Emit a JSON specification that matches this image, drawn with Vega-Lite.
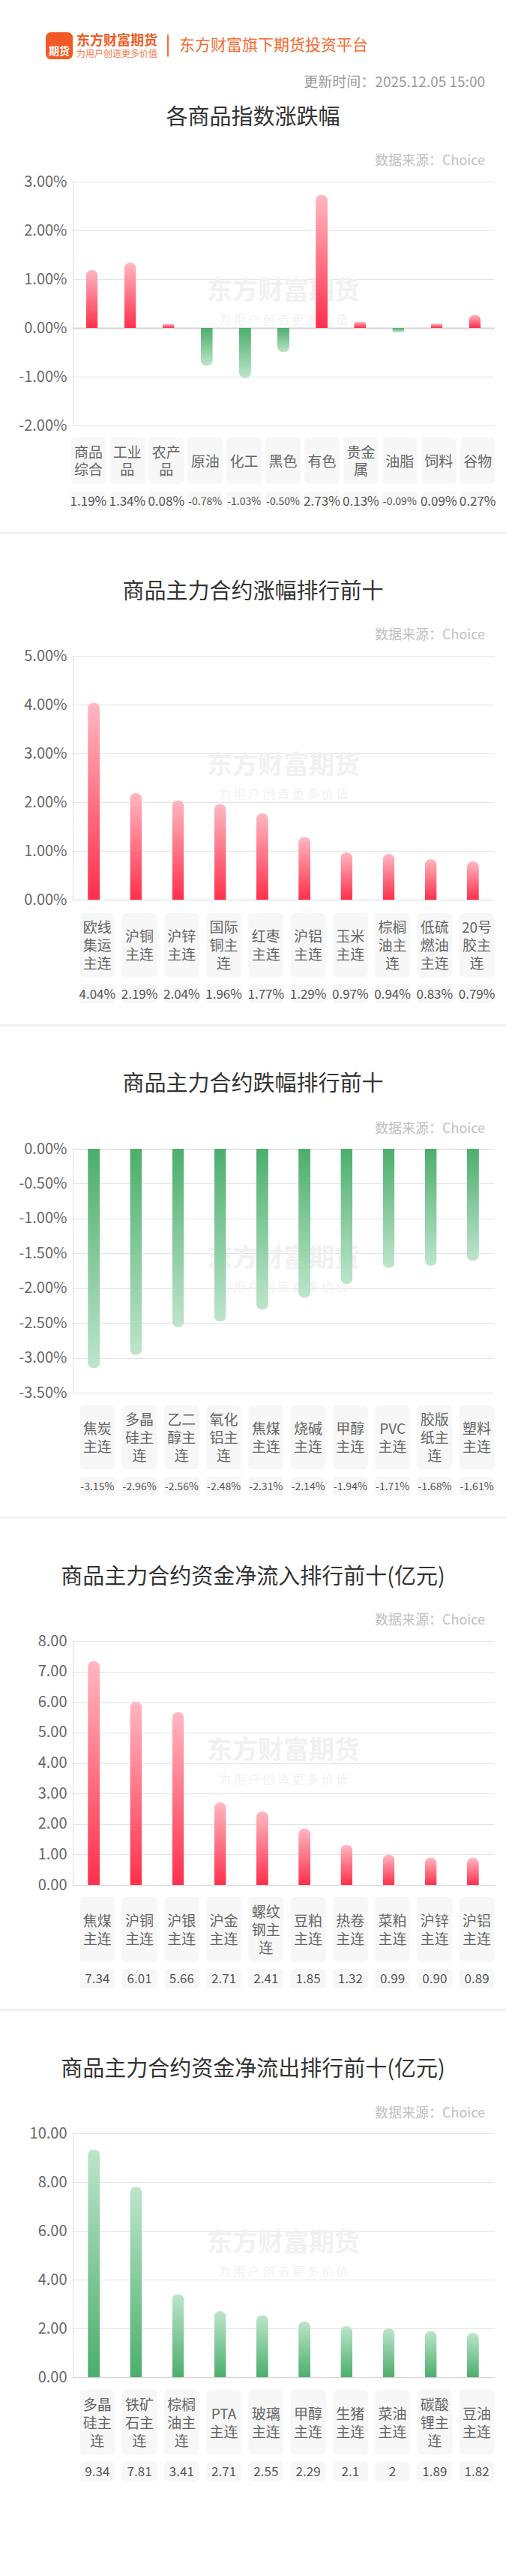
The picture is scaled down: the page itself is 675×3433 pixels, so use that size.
{
"$schema": "https://vega.github.io/schema/vega-lite/v6.json",
"padding": 0,
"background": "#ffffff",
"spacing": 0,
"config": {
  "view": {"stroke": null},
  "font": "Noto Sans CJK SC",
  "text": {"font": "Noto Sans CJK SC"},
  "axis": {"labelFont": "Noto Sans CJK SC"},
  "locale": {"number": {"decimal": ".", "thousands": ",", "grouping": [3], "currency": ["", ""], "minus": "-"}},
  "concat": {"spacing": 0}
},
"datasets": {
  "one": [{"k": 1}],
  "idx": [
    {"name": "商品综合", "lines": ["商品", "综合"], "v": 0.0119},
    {"name": "工业品", "lines": ["工业", "品"], "v": 0.0134},
    {"name": "农产品", "lines": ["农产", "品"], "v": 0.0008},
    {"name": "原油", "lines": ["原油"], "v": -0.0078},
    {"name": "化工", "lines": ["化工"], "v": -0.0103},
    {"name": "黑色", "lines": ["黑色"], "v": -0.005},
    {"name": "有色", "lines": ["有色"], "v": 0.0273},
    {"name": "贵金属", "lines": ["贵金", "属"], "v": 0.0013},
    {"name": "油脂", "lines": ["油脂"], "v": -0.0009},
    {"name": "饲料", "lines": ["饲料"], "v": 0.0009},
    {"name": "谷物", "lines": ["谷物"], "v": 0.0027}
  ],
  "up": [
    {"name": "欧线集运主连", "lines": ["欧线", "集运", "主连"], "v": 0.0404},
    {"name": "沪铜主连", "lines": ["沪铜", "主连"], "v": 0.0219},
    {"name": "沪锌主连", "lines": ["沪锌", "主连"], "v": 0.0204},
    {"name": "国际铜主连", "lines": ["国际", "铜主", "连"], "v": 0.0196},
    {"name": "红枣主连", "lines": ["红枣", "主连"], "v": 0.0177},
    {"name": "沪铝主连", "lines": ["沪铝", "主连"], "v": 0.0129},
    {"name": "玉米主连", "lines": ["玉米", "主连"], "v": 0.0097},
    {"name": "棕榈油主连", "lines": ["棕榈", "油主", "连"], "v": 0.0094},
    {"name": "低硫燃油主连", "lines": ["低硫", "燃油", "主连"], "v": 0.0083},
    {"name": "20号胶主连", "lines": ["20号", "胶主", "连"], "v": 0.0079}
  ],
  "down": [
    {"name": "焦炭主连", "lines": ["焦炭", "主连"], "v": -0.0315},
    {"name": "多晶硅主连", "lines": ["多晶", "硅主", "连"], "v": -0.0296},
    {"name": "乙二醇主连", "lines": ["乙二", "醇主", "连"], "v": -0.0256},
    {"name": "氧化铝主连", "lines": ["氧化", "铝主", "连"], "v": -0.0248},
    {"name": "焦煤主连", "lines": ["焦煤", "主连"], "v": -0.0231},
    {"name": "烧碱主连", "lines": ["烧碱", "主连"], "v": -0.0214},
    {"name": "甲醇主连", "lines": ["甲醇", "主连"], "v": -0.0194},
    {"name": "PVC主连", "lines": ["PVC", "主连"], "v": -0.0171},
    {"name": "胶版纸主连", "lines": ["胶版", "纸主", "连"], "v": -0.0168},
    {"name": "塑料主连", "lines": ["塑料", "主连"], "v": -0.0161}
  ],
  "inflow": [
    {"name": "焦煤主连", "lines": ["焦煤", "主连"], "v": 7.34},
    {"name": "沪铜主连", "lines": ["沪铜", "主连"], "v": 6.01},
    {"name": "沪银主连", "lines": ["沪银", "主连"], "v": 5.66},
    {"name": "沪金主连", "lines": ["沪金", "主连"], "v": 2.71},
    {"name": "螺纹钢主连", "lines": ["螺纹", "钢主", "连"], "v": 2.41},
    {"name": "豆粕主连", "lines": ["豆粕", "主连"], "v": 1.85},
    {"name": "热卷主连", "lines": ["热卷", "主连"], "v": 1.32},
    {"name": "菜粕主连", "lines": ["菜粕", "主连"], "v": 0.99},
    {"name": "沪锌主连", "lines": ["沪锌", "主连"], "v": 0.90},
    {"name": "沪铝主连", "lines": ["沪铝", "主连"], "v": 0.89}
  ],
  "outflow": [
    {"name": "多晶硅主连", "lines": ["多晶", "硅主", "连"], "v": 9.34},
    {"name": "铁矿石主连", "lines": ["铁矿", "石主", "连"], "v": 7.81},
    {"name": "棕榈油主连", "lines": ["棕榈", "油主", "连"], "v": 3.41},
    {"name": "PTA主连", "lines": ["PTA", "主连"], "v": 2.71},
    {"name": "玻璃主连", "lines": ["玻璃", "主连"], "v": 2.55},
    {"name": "甲醇主连", "lines": ["甲醇", "主连"], "v": 2.29},
    {"name": "生猪主连", "lines": ["生猪", "主连"], "v": 2.1},
    {"name": "菜油主连", "lines": ["菜油", "主连"], "v": 2},
    {"name": "碳酸锂主连", "lines": ["碳酸", "锂主", "连"], "v": 1.89},
    {"name": "豆油主连", "lines": ["豆油", "主连"], "v": 1.82}
  ]
},
"vconcat": [
  {"width": 675, "height": 43, "data": {"name": "one"}, "mark": {"type": "text", "text": "", "fontSize": 1}},
  {"hconcat": [
    {"width": 61, "height": 36, "data": {"name": "one"}, "mark": {"type": "text", "text": "", "fontSize": 1}},
    {"width": 36, "height": 36, "data": {"name": "one"}, "view": {"fill": "#f15a24", "cornerRadius": 7},
     "mark": {"type": "text", "text": "期货", "fontSize": 14, "fontWeight": "bold", "color": "#ffffff", "dy": 8}},
    {"width": 4, "height": 36, "data": {"name": "one"}, "mark": {"type": "text", "text": "", "fontSize": 1}},
    {"width": 110, "height": 36, "data": {"name": "one"}, "layer": [
      {"mark": {"type": "text", "text": "东方财富期货", "fontSize": 18, "fontWeight": "bold", "color": "#ef5b25", "dy": -6}},
      {"mark": {"type": "text", "text": "为用户创造更多价值", "fontSize": 12, "color": "#f07a4a", "dy": 11}}
    ]},
    {"width": 12, "height": 36, "data": {"name": "one"}, "mark": {"type": "text", "text": "", "fontSize": 1}},
    {"width": 2, "height": 29, "data": {"name": "one"}, "view": {"fill": "#f26a30"}, "mark": {"type": "text", "text": "", "fontSize": 1}},
    {"width": 9, "height": 36, "data": {"name": "one"}, "mark": {"type": "text", "text": "", "fontSize": 1}},
    {"width": 262, "height": 36, "data": {"name": "one"}, "mark": {"type": "text", "text": "东方财富旗下期货投资平台", "fontSize": 21, "color": "#f26a30"}}
  ], "spacing": 0, "center": true},
  {"width": 675, "height": 58, "data": {"name": "one"}, "mark": {"type": "text", "text": "更新时间：2025.12.05 15:00", "fontSize": 19, "color": "#9a9a9a", "align": "right", "dx": 309.5, "dy": 1.5}},

  {"width": 675, "height": 95, "data": {"name": "one"}, "layer": [
    {"mark": {"type": "text", "text": "各商品指数涨跌幅", "fontSize": 29, "color": "#333333", "dy": -27.5}},
    {"mark": {"type": "text", "text": "数据来源：Choice", "fontSize": 18, "color": "#c0c0c0", "align": "right", "dx": 309.5, "dy": 30}}
  ]},
  {"width": 675, "height": 325, "layer": [
    {"data": {"name": "one"}, "mark": {"type": "text", "text": "东方财富期货", "fontSize": 34, "fontWeight": "bold", "color": "#f1f1f1", "dx": 40.5, "dy": -16}},
    {"data": {"name": "one"}, "mark": {"type": "text", "text": "为 用 户 创 造 更 多 价 值", "fontSize": 16, "color": "#f1f1f1", "dx": 40.5, "dy": 22}},
    {"data": {"name": "idx"}, "transform": [{"filter": "datum.v >= 0"}],
     "mark": {"type": "bar", "width": 16, "cornerRadiusTopLeft": 8, "cornerRadiusTopRight": 8,
              "fill": {"gradient": "linear", "x1": 0, "y1": 0, "x2": 0, "y2": 1, "stops": [{"offset": 0, "color": "#ffb8c1"}, {"offset": 1, "color": "#ff2f4b"}]}},
     "encoding": {
       "x": {"field": "name", "type": "nominal", "sort": null, "axis": null, "scale": {"domain": ["商品综合","工业品","农产品","原油","化工","黑色","有色","贵金属","油脂","饲料","谷物"], "range": [97, 659], "paddingInner": 0, "paddingOuter": 0}},
       "y": {"field": "v", "type": "quantitative", "scale": {"domain": [-0.02, 0.03], "nice": false},
             "axis": {"values": [-0.02, -0.01, 0, 0.01, 0.02, 0.03], "format": ".2%", "title": null, "ticks": false, "offset": -97, "domainColor": "#d9d9d9", "labelFontSize": 20, "labelColor": "#666666", "labelPadding": 8,
                      "gridColor": {"condition": {"test": "datum.value === 0", "value": "#d4d4d4"}, "value": "#e3e3e3"},
                      "gridWidth": {"condition": {"test": "datum.value === 0", "value": 2}, "value": 1}}}
     }},
    {"data": {"name": "idx"}, "transform": [{"filter": "datum.v < 0"}],
     "mark": {"type": "bar", "width": 16, "cornerRadiusBottomLeft": 8, "cornerRadiusBottomRight": 8,
              "fill": {"gradient": "linear", "x1": 0, "y1": 0, "x2": 0, "y2": 1, "stops": [{"offset": 0, "color": "#4cae6c"}, {"offset": 1, "color": "#bde5cb"}]}},
     "encoding": {
       "x": {"field": "name", "type": "nominal", "sort": null, "axis": null, "scale": {"domain": ["商品综合","工业品","农产品","原油","化工","黑色","有色","贵金属","油脂","饲料","谷物"], "range": [97, 659], "paddingInner": 0, "paddingOuter": 0}},
       "y": {"field": "v", "type": "quantitative", "scale": {"domain": [-0.02, 0.03], "nice": false},
             "axis": {"values": [-0.02, -0.01, 0, 0.01, 0.02, 0.03], "format": ".2%", "title": null, "ticks": false, "offset": -97, "domainColor": "#d9d9d9", "labelFontSize": 20, "labelColor": "#666666", "labelPadding": 8,
                      "gridColor": {"condition": {"test": "datum.value === 0", "value": "#d4d4d4"}, "value": "#e3e3e3"},
                      "gridWidth": {"condition": {"test": "datum.value === 0", "value": 2}, "value": 1}}}
     }}
  ]},
  {"width": 675, "height": 6, "data": {"name": "one"}, "mark": {"type": "text", "text": "", "fontSize": 1}},
  {"width": 675, "height": 62, "data": {"name": "idx"},
   "encoding": {"x": {"field": "name", "type": "nominal", "sort": null, "axis": null, "scale": {"domain": ["商品综合","工业品","农产品","原油","化工","黑色","有色","贵金属","油脂","饲料","谷物"], "paddingInner": 0, "paddingOuter": 1.196, "align": 0.8856}}},
   "layer": [
    {"mark": {"type": "bar", "width": 47, "fill": "#f7f7f7", "cornerRadius": 6}},
    {"transform": [{"filter": "length(datum.lines) == 1"}], "mark": {"type": "text", "fontSize": 19, "color": "#666666", "lineHeight": 23, "dy": 1.5}, "encoding": {"text": {"field": "lines", "type": "nominal"}}},
    {"transform": [{"filter": "length(datum.lines) == 2"}], "mark": {"type": "text", "fontSize": 19, "color": "#666666", "lineHeight": 23, "dy": -10}, "encoding": {"text": {"field": "lines", "type": "nominal"}}}
   ]},
  {"width": 675, "height": 10, "data": {"name": "one"}, "mark": {"type": "text", "text": "", "fontSize": 1}},
  {"width": 675, "height": 25, "data": {"name": "idx"},
   "encoding": {"x": {"field": "name", "type": "nominal", "sort": null, "axis": null, "scale": {"paddingInner": 0, "paddingOuter": 1.196, "align": 0.8856}}},
   "layer": [
    {"mark": {"type": "bar", "width": 47, "fill": "#f7f7f7", "cornerRadius": 5}},
    {"mark": {"type": "text", "color": "#555555", "dy": 1}, "encoding": {"text": {"field": "v", "type": "quantitative", "format": ".2%"}, "size": {"condition": {"test": "datum.v < 0", "value": 14}, "value": 17}}}
   ]},
  {"width": 675, "height": 29, "data": {"name": "one"}, "mark": {"type": "text", "text": "", "fontSize": 1}},
  {"width": 675, "height": 3, "data": {"name": "one"}, "view": {"fill": "#f2f2f2"}, "mark": {"type": "text", "text": "", "fontSize": 1}},

  {"width": 675, "height": 152, "data": {"name": "one"}, "layer": [
    {"mark": {"type": "text", "text": "商品主力合约涨幅排行前十", "fontSize": 29, "color": "#333333", "dy": 1}},
    {"mark": {"type": "text", "text": "数据来源：Choice", "fontSize": 18, "color": "#c0c0c0", "align": "right", "dx": 309.5, "dy": 58.5}}
  ]},
  {"width": 675, "height": 325, "layer": [
    {"data": {"name": "one"}, "mark": {"type": "text", "text": "东方财富期货", "fontSize": 34, "fontWeight": "bold", "color": "#f1f1f1", "dx": 40.5, "dy": -16}},
    {"data": {"name": "one"}, "mark": {"type": "text", "text": "为 用 户 创 造 更 多 价 值", "fontSize": 16, "color": "#f1f1f1", "dx": 40.5, "dy": 22}},
    {"data": {"name": "up"},
     "mark": {"type": "bar", "width": 16, "cornerRadiusTopLeft": 8, "cornerRadiusTopRight": 8,
              "fill": {"gradient": "linear", "x1": 0, "y1": 0, "x2": 0, "y2": 1, "stops": [{"offset": 0, "color": "#ffb8c1"}, {"offset": 1, "color": "#ff2f4b"}]}},
     "encoding": {
       "x": {"field": "name", "type": "nominal", "sort": null, "axis": null, "scale": {"range": [97, 659], "paddingInner": 0, "paddingOuter": 0}},
       "y": {"field": "v", "type": "quantitative", "scale": {"domain": [0, 0.05], "nice": false},
             "axis": {"values": [0, 0.01, 0.02, 0.03, 0.04, 0.05], "format": ".2%", "title": null, "ticks": false, "offset": -97, "domainColor": "#d9d9d9", "labelFontSize": 20, "labelColor": "#666666", "labelPadding": 8,
                      "gridColor": {"condition": {"test": "datum.value === 0", "value": "#d4d4d4"}, "value": "#e3e3e3"}}}
     }}
  ]},
  {"width": 675, "height": 8, "data": {"name": "one"}, "mark": {"type": "text", "text": "", "fontSize": 1}},
  {"width": 675, "height": 85, "data": {"name": "up"},
   "encoding": {"x": {"field": "name", "type": "nominal", "sort": null, "axis": null, "scale": {"domain": ["欧线集运主连","沪铜主连","沪锌主连","国际铜主连","红枣主连","沪铝主连","玉米主连","棕榈油主连","低硫燃油主连","20号胶主连"], "paddingInner": 0, "paddingOuter": 1.027, "align": 0.904}}},
   "layer": [
    {"mark": {"type": "bar", "width": 47, "fill": "#f7f7f7", "cornerRadius": 6}},
    {"transform": [{"filter": "length(datum.lines) == 2"}], "mark": {"type": "text", "fontSize": 19, "color": "#666666", "lineHeight": 24, "dy": -10.5}, "encoding": {"text": {"field": "lines", "type": "nominal"}}},
    {"transform": [{"filter": "length(datum.lines) == 3"}], "mark": {"type": "text", "fontSize": 19, "color": "#666666", "lineHeight": 24, "dy": -22.5}, "encoding": {"text": {"field": "lines", "type": "nominal"}}}
   ]},
  {"width": 675, "height": 10, "data": {"name": "one"}, "mark": {"type": "text", "text": "", "fontSize": 1}},
  {"width": 675, "height": 25, "data": {"name": "up"},
   "encoding": {"x": {"field": "name", "type": "nominal", "sort": null, "axis": null, "scale": {"paddingInner": 0, "paddingOuter": 1.027, "align": 0.904}}},
   "layer": [
    {"mark": {"type": "bar", "width": 47, "fill": "#f7f7f7", "cornerRadius": 5}},
    {"mark": {"type": "text", "color": "#555555", "dy": 1, "fontSize": 17}, "encoding": {"text": {"field": "v", "type": "quantitative", "format": ".2%"}}}
   ]},
  {"width": 675, "height": 28, "data": {"name": "one"}, "mark": {"type": "text", "text": "", "fontSize": 1}},
  {"width": 675, "height": 3, "data": {"name": "one"}, "view": {"fill": "#f2f2f2"}, "mark": {"type": "text", "text": "", "fontSize": 1}},

  {"width": 675, "height": 153, "data": {"name": "one"}, "layer": [
    {"mark": {"type": "text", "text": "商品主力合约跌幅排行前十", "fontSize": 29, "color": "#333333", "dy": 0.5}},
    {"mark": {"type": "text", "text": "数据来源：Choice", "fontSize": 18, "color": "#c0c0c0", "align": "right", "dx": 309.5, "dy": 60}}
  ]},
  {"width": 675, "height": 325, "layer": [
    {"data": {"name": "one"}, "mark": {"type": "text", "text": "东方财富期货", "fontSize": 34, "fontWeight": "bold", "color": "#f1f1f1", "dx": 40.5, "dy": -16}},
    {"data": {"name": "one"}, "mark": {"type": "text", "text": "为 用 户 创 造 更 多 价 值", "fontSize": 16, "color": "#f1f1f1", "dx": 40.5, "dy": 22}},
    {"data": {"name": "down"},
     "mark": {"type": "bar", "width": 16, "cornerRadiusBottomLeft": 8, "cornerRadiusBottomRight": 8,
              "fill": {"gradient": "linear", "x1": 0, "y1": 0, "x2": 0, "y2": 1, "stops": [{"offset": 0, "color": "#4cae6c"}, {"offset": 1, "color": "#bde5cb"}]}},
     "encoding": {
       "x": {"field": "name", "type": "nominal", "sort": null, "axis": null, "scale": {"range": [97, 659], "paddingInner": 0, "paddingOuter": 0}},
       "y": {"field": "v", "type": "quantitative", "scale": {"domain": [-0.035, 0], "nice": false},
             "axis": {"values": [-0.035, -0.03, -0.025, -0.02, -0.015, -0.01, -0.005, 0], "format": ".2%", "title": null, "ticks": false, "offset": -97, "domainColor": "#d9d9d9", "labelFontSize": 20, "labelColor": "#666666", "labelPadding": 8,
                      "gridColor": {"condition": {"test": "datum.value === 0", "value": "#d4d4d4"}, "value": "#e3e3e3"}}}
     }}
  ]},
  {"width": 675, "height": 7, "data": {"name": "one"}, "mark": {"type": "text", "text": "", "fontSize": 1}},
  {"width": 675, "height": 85, "data": {"name": "down"},
   "encoding": {"x": {"field": "name", "type": "nominal", "sort": null, "axis": null, "scale": {"domain": ["焦炭主连","多晶硅主连","乙二醇主连","氧化铝主连","焦煤主连","烧碱主连","甲醇主连","PVC主连","胶版纸主连","塑料主连"], "paddingInner": 0, "paddingOuter": 1.027, "align": 0.904}}},
   "layer": [
    {"mark": {"type": "bar", "width": 47, "fill": "#f7f7f7", "cornerRadius": 6}},
    {"transform": [{"filter": "length(datum.lines) == 2"}], "mark": {"type": "text", "fontSize": 19, "color": "#666666", "lineHeight": 24, "dy": -10.5}, "encoding": {"text": {"field": "lines", "type": "nominal"}}},
    {"transform": [{"filter": "length(datum.lines) == 3"}], "mark": {"type": "text", "fontSize": 19, "color": "#666666", "lineHeight": 24, "dy": -22.5}, "encoding": {"text": {"field": "lines", "type": "nominal"}}}
   ]},
  {"width": 675, "height": 10, "data": {"name": "one"}, "mark": {"type": "text", "text": "", "fontSize": 1}},
  {"width": 675, "height": 25, "data": {"name": "down"},
   "encoding": {"x": {"field": "name", "type": "nominal", "sort": null, "axis": null, "scale": {"paddingInner": 0, "paddingOuter": 1.027, "align": 0.904}}},
   "layer": [
    {"mark": {"type": "bar", "width": 47, "fill": "#f7f7f7", "cornerRadius": 5}},
    {"mark": {"type": "text", "color": "#555555", "dy": 1, "fontSize": 14}, "encoding": {"text": {"field": "v", "type": "quantitative", "format": ".2%"}}}
   ]},
  {"width": 675, "height": 28, "data": {"name": "one"}, "mark": {"type": "text", "text": "", "fontSize": 1}},
  {"width": 675, "height": 3, "data": {"name": "one"}, "view": {"fill": "#f2f2f2"}, "mark": {"type": "text", "text": "", "fontSize": 1}},

  {"width": 675, "height": 153, "data": {"name": "one"}, "layer": [
    {"mark": {"type": "text", "text": "商品主力合约资金净流入排行前十(亿元)", "fontSize": 29, "color": "#333333", "dy": 1.5}},
    {"mark": {"type": "text", "text": "数据来源：Choice", "fontSize": 18, "color": "#c0c0c0", "align": "right", "dx": 309.5, "dy": 59}}
  ]},
  {"width": 675, "height": 325, "layer": [
    {"data": {"name": "one"}, "mark": {"type": "text", "text": "东方财富期货", "fontSize": 34, "fontWeight": "bold", "color": "#f1f1f1", "dx": 40.5, "dy": -16}},
    {"data": {"name": "one"}, "mark": {"type": "text", "text": "为 用 户 创 造 更 多 价 值", "fontSize": 16, "color": "#f1f1f1", "dx": 40.5, "dy": 22}},
    {"data": {"name": "inflow"},
     "mark": {"type": "bar", "width": 16, "cornerRadiusTopLeft": 8, "cornerRadiusTopRight": 8,
              "fill": {"gradient": "linear", "x1": 0, "y1": 0, "x2": 0, "y2": 1, "stops": [{"offset": 0, "color": "#ffb8c1"}, {"offset": 1, "color": "#ff2f4b"}]}},
     "encoding": {
       "x": {"field": "name", "type": "nominal", "sort": null, "axis": null, "scale": {"range": [97, 659], "paddingInner": 0, "paddingOuter": 0}},
       "y": {"field": "v", "type": "quantitative", "scale": {"domain": [0, 8], "nice": false},
             "axis": {"values": [0, 1, 2, 3, 4, 5, 6, 7, 8], "format": ".2f", "title": null, "ticks": false, "offset": -97, "domainColor": "#d9d9d9", "labelFontSize": 20, "labelColor": "#666666", "labelPadding": 8,
                      "gridColor": {"condition": {"test": "datum.value === 0", "value": "#d4d4d4"}, "value": "#e3e3e3"}}}
     }}
  ]},
  {"width": 675, "height": 6, "data": {"name": "one"}, "mark": {"type": "text", "text": "", "fontSize": 1}},
  {"width": 675, "height": 86, "data": {"name": "inflow"},
   "encoding": {"x": {"field": "name", "type": "nominal", "sort": null, "axis": null, "scale": {"domain": ["焦煤主连","沪铜主连","沪银主连","沪金主连","螺纹钢主连","豆粕主连","热卷主连","菜粕主连","沪锌主连","沪铝主连"], "paddingInner": 0, "paddingOuter": 1.027, "align": 0.904}}},
   "layer": [
    {"mark": {"type": "bar", "width": 47, "fill": "#f7f7f7", "cornerRadius": 6}},
    {"transform": [{"filter": "length(datum.lines) == 2"}], "mark": {"type": "text", "fontSize": 19, "color": "#666666", "lineHeight": 24, "dy": -10.5}, "encoding": {"text": {"field": "lines", "type": "nominal"}}},
    {"transform": [{"filter": "length(datum.lines) == 3"}], "mark": {"type": "text", "fontSize": 19, "color": "#666666", "lineHeight": 24, "dy": -22.5}, "encoding": {"text": {"field": "lines", "type": "nominal"}}}
   ]},
  {"width": 675, "height": 10, "data": {"name": "one"}, "mark": {"type": "text", "text": "", "fontSize": 1}},
  {"width": 675, "height": 26, "data": {"name": "inflow"},
   "encoding": {"x": {"field": "name", "type": "nominal", "sort": null, "axis": null, "scale": {"paddingInner": 0, "paddingOuter": 1.027, "align": 0.904}}},
   "layer": [
    {"mark": {"type": "bar", "width": 47, "fill": "#f7f7f7", "cornerRadius": 5}},
    {"mark": {"type": "text", "color": "#555555", "dy": 1, "fontSize": 17}, "encoding": {"text": {"field": "v", "type": "quantitative", "format": ".2f"}}}
   ]},
  {"width": 675, "height": 27, "data": {"name": "one"}, "mark": {"type": "text", "text": "", "fontSize": 1}},
  {"width": 675, "height": 3, "data": {"name": "one"}, "view": {"fill": "#f2f2f2"}, "mark": {"type": "text", "text": "", "fontSize": 1}},

  {"width": 675, "height": 153, "data": {"name": "one"}, "layer": [
    {"mark": {"type": "text", "text": "商品主力合约资金净流出排行前十(亿元)", "fontSize": 29, "color": "#333333", "dy": 1.5}},
    {"mark": {"type": "text", "text": "数据来源：Choice", "fontSize": 18, "color": "#c0c0c0", "align": "right", "dx": 309.5, "dy": 60}}
  ]},
  {"width": 675, "height": 325, "layer": [
    {"data": {"name": "one"}, "mark": {"type": "text", "text": "东方财富期货", "fontSize": 34, "fontWeight": "bold", "color": "#f1f1f1", "dx": 40.5, "dy": -16}},
    {"data": {"name": "one"}, "mark": {"type": "text", "text": "为 用 户 创 造 更 多 价 值", "fontSize": 16, "color": "#f1f1f1", "dx": 40.5, "dy": 22}},
    {"data": {"name": "outflow"},
     "mark": {"type": "bar", "width": 16, "cornerRadiusTopLeft": 8, "cornerRadiusTopRight": 8,
              "fill": {"gradient": "linear", "x1": 0, "y1": 0, "x2": 0, "y2": 1, "stops": [{"offset": 0, "color": "#bde5cb"}, {"offset": 1, "color": "#4cae6c"}]}},
     "encoding": {
       "x": {"field": "name", "type": "nominal", "sort": null, "axis": null, "scale": {"range": [97, 659], "paddingInner": 0, "paddingOuter": 0}},
       "y": {"field": "v", "type": "quantitative", "scale": {"domain": [0, 10], "nice": false},
             "axis": {"values": [0, 2, 4, 6, 8, 10], "format": ".2f", "title": null, "ticks": false, "offset": -97, "domainColor": "#d9d9d9", "labelFontSize": 20, "labelColor": "#666666", "labelPadding": 8,
                      "gridColor": {"condition": {"test": "datum.value === 0", "value": "#d4d4d4"}, "value": "#e3e3e3"}}}
     }}
  ]},
  {"width": 675, "height": 7, "data": {"name": "one"}, "mark": {"type": "text", "text": "", "fontSize": 1}},
  {"width": 675, "height": 86, "data": {"name": "outflow"},
   "encoding": {"x": {"field": "name", "type": "nominal", "sort": null, "axis": null, "scale": {"domain": ["多晶硅主连","铁矿石主连","棕榈油主连","PTA主连","玻璃主连","甲醇主连","生猪主连","菜油主连","碳酸锂主连","豆油主连"], "paddingInner": 0, "paddingOuter": 1.027, "align": 0.904}}},
   "layer": [
    {"mark": {"type": "bar", "width": 47, "fill": "#f7f7f7", "cornerRadius": 6}},
    {"transform": [{"filter": "length(datum.lines) == 2"}], "mark": {"type": "text", "fontSize": 19, "color": "#666666", "lineHeight": 24, "dy": -10.5}, "encoding": {"text": {"field": "lines", "type": "nominal"}}},
    {"transform": [{"filter": "length(datum.lines) == 3"}], "mark": {"type": "text", "fontSize": 19, "color": "#666666", "lineHeight": 24, "dy": -22.5}, "encoding": {"text": {"field": "lines", "type": "nominal"}}}
   ]},
  {"width": 675, "height": 10, "data": {"name": "one"}, "mark": {"type": "text", "text": "", "fontSize": 1}},
  {"width": 675, "height": 25, "data": {"name": "outflow"},
   "encoding": {"x": {"field": "name", "type": "nominal", "sort": null, "axis": null, "scale": {"paddingInner": 0, "paddingOuter": 1.027, "align": 0.904}}},
   "layer": [
    {"mark": {"type": "bar", "width": 47, "fill": "#f7f7f7", "cornerRadius": 5}},
    {"mark": {"type": "text", "color": "#555555", "dy": 1, "fontSize": 17}, "encoding": {"text": {"field": "v", "type": "quantitative"}}}
   ]}
]
}
